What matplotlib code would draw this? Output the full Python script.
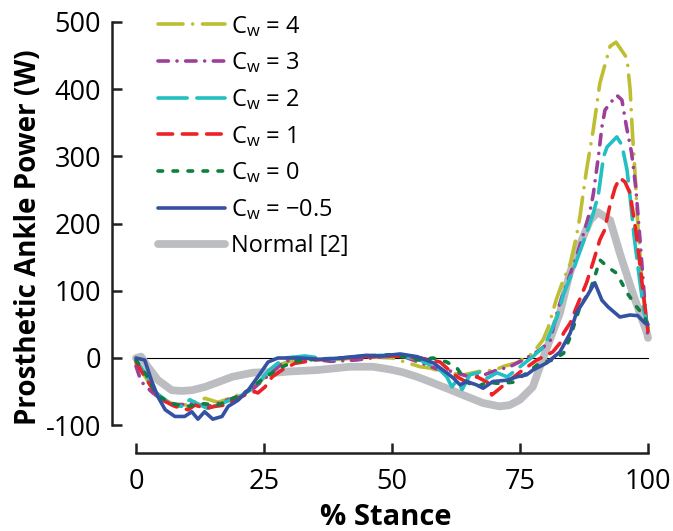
import matplotlib
matplotlib.use("Agg")
import matplotlib.pyplot as plt

plt.rcParams['font.family'] = ['Open Sans', 'DejaVu Sans']
plt.rcParams['mathtext.fontset'] = 'custom'
plt.rcParams['mathtext.rm'] = 'Open Sans'
plt.rcParams['mathtext.it'] = 'Open Sans:italic'
plt.rcParams['axes.unicode_minus'] = False
plt.rcParams['lines.scale_dashes'] = False

# ---------------- data ----------------
s_c4 = [0, 2, 4, 7, 10, 13.5, 16, 19, 22, 25, 28, 32, 36, 40, 45, 50, 55.5, 57.4, 60.7, 64, 67, 70, 72,
        74.4, 77.5, 79.5, 80.5, 82, 83.4, 84.8, 86, 86.7, 87.3, 88, 89.3, 90.6, 92.6, 93.75, 95.9, 96.5,
        97, 97.5, 98, 99, 100]
p_c4 = [-8, -30, -55, -68, -70, -60, -66, -58, -48, -30, -10, 0, -3, -2, 2, 0, -13, -15, -22, -25, -20,
        -18, -12, -7, 7, 27, 45, 85, 115, 140, 180, 210, 243, 280, 339, 409, 464, 470, 446, 400, 330,
        270, 200, 95, 38]

s_c3 = [0, 1, 3, 5, 8, 11, 14, 17, 20, 23, 26, 29, 33, 38, 43, 48, 52, 55.5, 59.4, 62, 65, 68, 70.5,
        73, 75.6, 78.9, 80.9, 81.5, 82.5, 84.2, 86, 88, 88.7, 89.3, 90.3, 91, 91.6, 92.7, 93.9, 94.9,
        95.8, 96.8, 97.6, 98.5, 99.3, 100]
p_c3 = [-12, -35, -50, -62, -70, -68, -72, -65, -57, -45, -25, -5, 0, -5, -3, 2, 3, -7, -18, -20, -28,
        -25, -18, -13, -3, 12, 25, 45, 75, 112, 150, 200, 220, 243, 299, 344, 369, 380, 391, 384, 344,
        305, 255, 170, 90, 28]

s_c2 = [0, 2, 4, 7, 9, 10.5, 12, 14, 17, 20, 23, 26, 29, 33, 38, 43, 48, 52, 55.5, 59.4, 60.7, 61.7,
        62.7, 63.7, 65.2, 67.2, 68.6, 70.5, 72.5, 75, 77.5, 79.5, 80.3, 82.2, 83.5, 85.4, 87, 88, 89.3,
        90.3, 91.3, 92, 93.9, 94.9, 95.9, 96.5, 97.3, 98.3, 99.2, 100]
p_c2 = [-3, -25, -52, -70, -72, -62, -68, -75, -67, -58, -45, -18, 0, 3, -2, 2, 4, 3, -3, -18, -28, -43,
        -33, -47, -25, -21, -30, -22, -28, -13, 2, 16, 27, 60, 95, 131, 165, 186, 215, 243, 299, 314,
        329, 317, 280, 240, 180, 120, 70, 45]

s_c1 = [0, 1.7, 3, 5, 7.6, 10.2, 11.5, 13.5, 15.4, 17.4, 19.3, 21.3, 23.2, 23.8, 25.2, 26.6, 28.5, 31,
        35, 40, 45, 50, 55.5, 59.4, 60.7, 62.7, 64.6, 66.6, 68.6, 69.5, 71.1, 72.5, 75, 78.3, 81.4, 82.8,
        83.5, 84.8, 86, 88, 89.3, 90.6, 91.5, 92.5, 93.6, 94.5, 95.5, 96.5, 97.8, 99, 99.8, 100]
p_c1 = [-5, -28, -43, -62, -72, -77, -70, -75, -72, -70, -62, -55, -50, -52, -43, -28, -18, -8, -3, 0,
        2, 3, 0, -6, -15, -28, -36, -28, -36, -55, -45, -36, -21, -3, 9, 22, 37, 52, 75, 112, 143, 176,
        190, 225, 254, 268, 262, 245, 180, 101, 52, 40]

s_c0 = [0, 2, 4, 7, 10, 13, 16, 19, 22, 25, 28, 31, 35, 40, 45, 50, 55.5, 58, 60.7, 62.7, 64.6, 66.6,
        68.6, 71.1, 73.6, 76.4, 78.9, 81.4, 83.5, 84.8, 86.7, 88.7, 89.6, 90.6, 92.2, 93.9, 95.9, 97.8,
        99.4, 100]
p_c0 = [-3, -25, -55, -68, -72, -68, -70, -60, -48, -30, -15, -5, -2, 0, 3, 5, -3, 0, -6, -15, -36, -43,
        -36, -38, -36, -22, -7, -3, 7, 31, 76, 101, 121, 146, 135, 126, 97, 76, 61, 45]

s_cm = [0, 1.7, 3, 4.3, 5.7, 7.6, 9.5, 10.9, 12.1, 13.4, 15, 16.8, 18, 19.9, 21.9, 23.8, 25.8, 27.7, 32,
        36, 40, 45, 48, 51.6, 54.9, 58, 60.7, 62, 63.3, 64.6, 66.5, 67.8, 69.7, 72.5, 74.4, 76.3, 77.5,
        80.3, 82.8, 84.8, 86, 88, 89.6, 91, 92.2, 94.5, 96.5, 98, 99.4, 100]
p_cm = [0, -3, -33, -58, -77, -87, -87, -80, -91, -80, -91, -87, -72, -63, -48, -28, -6, 0, 0, -2, 0, 4,
        3, 6, 2, -7, -22, -30, -40, -35, -40, -45, -35, -33, -28, -25, -18, -7, 9, 37, 67, 91, 112, 86,
        76, 61, 64, 63, 52, 50]

s_norm = [0, 1, 2.3, 4.3, 7, 9, 10.9, 13.5, 16, 18.8, 22.7, 25, 27.1, 30, 35.3, 41.8, 46.3, 49.6, 52,
          54.9, 58, 61.3, 64.5, 67.8, 71, 73, 75, 77.5, 78.9, 80.3, 82.8, 84.5, 86, 88.7, 90.2, 92.6,
          94.5, 97, 99.8, 100]
p_norm = [0, 2, -13, -33, -48, -49, -48, -43, -36, -28, -22, -21, -22, -20, -18, -13, -13, -17, -21,
          -28, -37, -47, -57, -67, -72, -70, -62, -43, -13, 16, 67, 120, 156, 205, 217, 205, 156, 97,
          37, 30]

labels = ["C$_\\mathrm{w}$ = 4", "C$_\\mathrm{w}$ = 3", "C$_\\mathrm{w}$ = 2", "C$_\\mathrm{w}$ = 1",
          "C$_\\mathrm{w}$ = 0", "C$_\\mathrm{w}$ = \u22120.5", "Normal [2]"]
x_ticks = [0, 25, 50, 75, 100]
y_ticks = [-100, 0, 100, 200, 300, 400, 500]

# ---------------- figure ----------------
W, H = 673, 531
fig = plt.figure(figsize=(W / 100, H / 100), dpi=100)
ax_l, ax_r, ax_t, ax_b = 112, 660, 22, 453
ax = fig.add_axes([ax_l / W, 1 - ax_b / H, (ax_r - ax_l) / W, (ax_b - ax_t) / H])

x0_px, x100_px = 136, 648
ppx = (x100_px - x0_px) / 100.0
ax.set_xlim(-(x0_px - ax_l) / ppx, (ax_r - x0_px) / ppx)
y0_px, y500_px = 358, 22
ppy = (y0_px - y500_px) / 500.0
ax.set_ylim(-(ax_b - y0_px) / ppy, 500)

col_spine = "#231F20"
lw = 2.6
ax.plot([0, 100], [0, 0], color="black", lw=0.8, zorder=1)

h_norm, = ax.plot(s_norm, p_norm, color="#BCBDC0", lw=5.6, solid_capstyle="round", zorder=2)
h4, = ax.plot(s_c4, p_c4, color="#BDBE32", lw=lw, dashes=(18, 7, 0.01, 7),
              dash_capstyle="round", zorder=3)
h3, = ax.plot(s_c3, p_c3, color="#9E3F9A", lw=lw, dashes=(7.5, 6.2, 0.01, 6.2),
              dash_capstyle="round", zorder=4)
h2, = ax.plot(s_c2, p_c2, color="#22BFC3", lw=lw, dashes=(21, 7),
              dash_capstyle="round", zorder=5)
h1, = ax.plot(s_c1, p_c1, color="#EC2227", lw=lw, dashes=(10.5, 7),
              dash_capstyle="round", zorder=6)
h0, = ax.plot(s_c0, p_c0, color="#0E7F3E", lw=lw, dashes=(3.3, 7.5),
              dash_capstyle="round", zorder=7)
hm, = ax.plot(s_cm, p_cm, color="#3451A3", lw=lw, solid_capstyle="round", zorder=8)

for side in ("top", "right"):
    ax.spines[side].set_visible(False)
for side in ("left", "bottom"):
    ax.spines[side].set_linewidth(1.8)
    ax.spines[side].set_color(col_spine)
ax.spines["left"].set_bounds(-100, 500)
ax.spines["bottom"].set_bounds(0, 100)
ax.set_xticks(x_ticks)
ax.set_yticks(y_ticks)
ax.set_xticklabels([str(v) for v in x_ticks])
ax.set_yticklabels([str(v) for v in y_ticks])
ax.tick_params(direction="in", length=7, width=1.8, color=col_spine, labelsize=19.5,
               labelcolor="black")
ax.tick_params(axis="y", pad=8)
ax.tick_params(axis="x", pad=11)
ax.set_facecolor("none")

ax.set_xlabel("% Stance", fontsize=21, fontweight="bold", labelpad=5)
ax.set_ylabel("Prosthetic Ankle Power (W)", fontsize=20, fontweight="bold", labelpad=2)

leg = ax.legend([h4, h3, h2, h1, h0, hm, h_norm], labels, loc="upper left",
                bbox_to_anchor=((153 - ax_l) / (ax_r - ax_l), 1 + 13 / (ax_b - ax_t)),
                frameon=False, fontsize=17, handlelength=2.85, handletextpad=0.25,
                labelspacing=0.5, borderaxespad=0, borderpad=0.2)
for t in leg.get_texts():
    t.set_color("black")

fig.savefig("out.png", dpi=100)
